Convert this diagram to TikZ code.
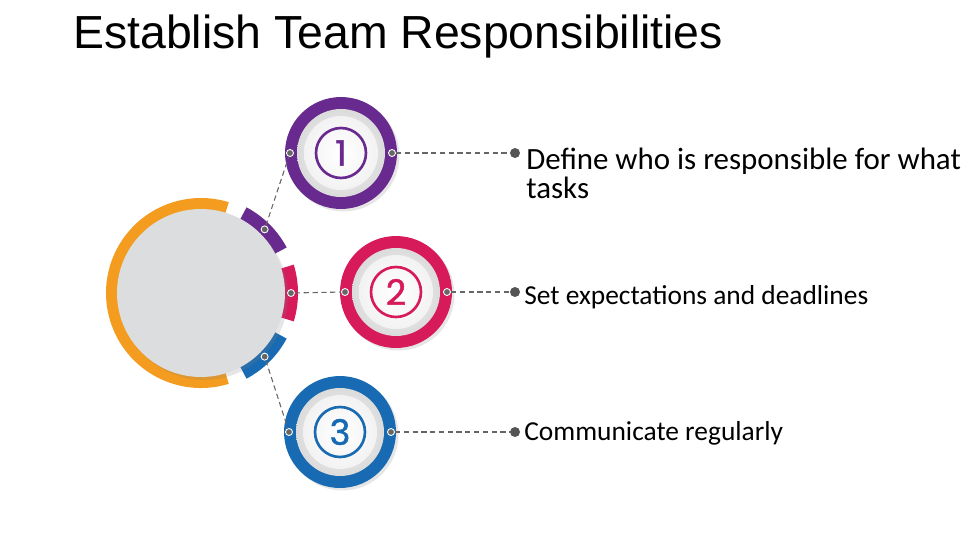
\documentclass[tikz,border=0pt]{standalone}
\usepackage{fontspec}
\setmainfont{Carlito}
\newfontfamily\titlefont{Liberation Sans}
\newfontfamily\numfont[FakeBold=1.3]{Poppins}
\usepackage{tikz}
\usetikzlibrary{calc, positioning, shadows}
\usepackage{xcolor}
\definecolor{cOrange}{RGB}{243,156,31}
\definecolor{cPurple}{RGB}{104,42,143}
\definecolor{cMagenta}{RGB}{214,26,90}
\definecolor{cBlue}{RGB}{24,106,178}
\definecolor{cDisc}{RGB}{220,221,223}
\definecolor{cDot}{RGB}{85,85,85}
\tikzset{
  hubdisc/.style={circle, fill=cDisc, minimum size=3.36cm, inner sep=0pt,
                  drop shadow={opacity=0.2, shadow xshift=0.06cm,
                               shadow yshift=-0.06cm}},
  stepring/.style={circle, fill=#1, minimum size=2.24cm, inner sep=0pt,
                   drop shadow={opacity=0.2, shadow xshift=0.05cm,
                                shadow yshift=-0.05cm}},
  numlabel/.style={circle, draw=#1, text=#1, line width=1.5pt,
                   minimum size=1.0cm, inner sep=0pt,
                   font=\numfont\fontsize{20}{20}\selectfont},
  linkdot/.style={circle, fill=black!60, draw=white, line width=0.5pt,
                  minimum size=0.14cm, inner sep=0pt},
  enddot/.style={circle, fill=cDot, minimum size=0.2cm, inner sep=0pt},
  link/.style={dash pattern=on 3pt off 2pt, draw=black!60, line width=0.6pt},
  itemtext/.style={anchor=base west, inner sep=0pt, align=left,
                   font=\fontsize{17.6}{16}\selectfont},
  smalltext/.style={itemtext, font=\fontsize{15.6}{16}\selectfont},
  titletext/.style={anchor=base west, inner sep=0pt,
                    font=\titlefont\fontsize{26.4}{30}\selectfont}
}
\begin{document}
\begin{tikzpicture}[x=0.02cm, y=0.02cm]
  \useasboundingbox (0,0) rectangle (980,-558);

  % Title
  \node[titletext] (title) at (73,-48) {Establish Team Responsibilities};

  % Hub: orange arc, coloured segments, grey disc
  \coordinate (hubc) at (201,-293);
  \fill[cOrange] ($(hubc)+(73:82)$) arc[start angle=73, end angle=287, radius=82]
    -- ($(hubc)+(287:95)$) arc[start angle=287, end angle=73, radius=95] -- cycle;
  \foreach \a/\clr in {45/cPurple, 0/cMagenta, -45/cBlue} {
    \fill[\clr] ($(hubc)+(\a-17:82)$) arc[start angle=\a-17, end angle=\a+17, radius=82]
      -- ($(hubc)+(\a+17:97)$) arc[start angle=\a+17, end angle=\a-17, radius=97] -- cycle;
  }
  \node[hubdisc] (hub) at (hubc) {};

  % Steps
  \foreach \i/\clr/\x/\y in {1/cPurple/341/-153, 2/cMagenta/396/-292, 3/cBlue/340/-432} {
    \node[stepring=\clr] (s\i) at (\x,\y) {};
    \shade[inner color=black!4, outer color=black!14] (s\i) circle[radius=44];
    \shade[inner color=white, outer color=black!5] (s\i) circle[radius=37];
    \node[numlabel=\clr] (n\i) at (s\i) {\i};
    \node[linkdot] (l\i) at ($(s\i)+(180:51)$) {};
    \node[linkdot] (r\i) at ($(s\i)+(0:51)$) {};
    \node[enddot] (e\i) at (515,\y) {};
  }
  \foreach \i/\a in {1/45, 2/0, 3/-45} {
    \node[linkdot] (h\i) at ($(hubc)+(\a:90)$) {};
  }

  % Connectors
  \foreach \i in {1,2,3} {
    \draw[link] (h\i) -- (l\i);
    \draw[link] (r\i) -- (e\i);
  }

  % Item texts
  \node[itemtext] (t1) at (526,-198) {Define who is responsible for what\\tasks};
  \node[smalltext] (t2) at (524,-304) {Set expectations and deadlines};
  \node[smalltext] (t3) at (524,-440) {Communicate regularly};
\end{tikzpicture}
\end{document}
